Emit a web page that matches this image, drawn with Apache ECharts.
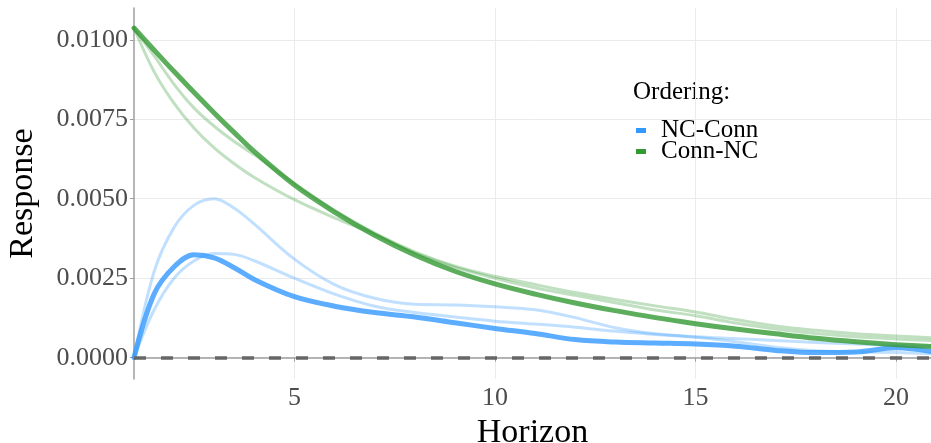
<!DOCTYPE html>
<html>
<head>
<meta charset="utf-8">
<script src="https://cdn.jsdelivr.net/npm/echarts@6/dist/echarts.min.js"></script>
<style>
  html, body { margin: 0; padding: 0; background: #fff; }
  #chart { width: 931px; height: 443px; }
</style>
</head>
<body>
<div id="chart"></div>
<script>
// horizons (shared by every series)
const horizon = [1, 1.5, 2, 2.5, 3, 3.5, 4, 5, 6, 7, 8, 9, 10, 11, 12, 13, 14, 15, 16, 17, 18, 19, 20, 21];

// NC-Conn ordering: main response and the two light companion lines
const ncConn   = [0, 0.0020, 0.00286, 0.00324, 0.00314, 0.00283, 0.00246, 0.00192, 0.00162, 0.00142, 0.00128, 0.00110, 0.00092, 0.00076, 0.00057, 0.00049, 0.00046, 0.00043, 0.00036, 0.00023, 0.00016, 0.00018, 0.00031, 0.00017];
const ncConnHi = [0, 0.0027, 0.0041, 0.0048, 0.0050, 0.0047, 0.0042, 0.0031, 0.0023, 0.00187, 0.00168, 0.00166, 0.00160, 0.00151, 0.00126, 0.00094, 0.00075, 0.00066, 0.00060, 0.00054, 0.00048, 0.00043, 0.00039, 0.00036];
const ncConnLo = [0, 0.0015, 0.0025, 0.00305, 0.00328, 0.00325, 0.00305, 0.0025, 0.0020, 0.00162, 0.00142, 0.00128, 0.00115, 0.00106, 0.00096, 0.00083, 0.00073, 0.00064, 0.00050, 0.00033, 0.00022, 0.00018, 0.00016, 0.00012];

// Conn-NC ordering
const connNC   = [0.01037, 0.00968, 0.00900, 0.00834, 0.00770, 0.00708, 0.00648, 0.00543, 0.00458, 0.00385, 0.00323, 0.00272, 0.00232, 0.00200, 0.00172, 0.00148, 0.00126, 0.00107, 0.00090, 0.00075, 0.00061, 0.00050, 0.00041, 0.00034];
const connNCHi = [0.01037, 0.00950, 0.00860, 0.00785, 0.00728, 0.00680, 0.00638, 0.00548, 0.00464, 0.00392, 0.00333, 0.00288, 0.00256, 0.00230, 0.00205, 0.00183, 0.00163, 0.00144, 0.00120, 0.00100, 0.00086, 0.00075, 0.00068, 0.00062];
const connNCLo = [0.01037, 0.00900, 0.00800, 0.00722, 0.00660, 0.00610, 0.00567, 0.00497, 0.00440, 0.00388, 0.00330, 0.00285, 0.00250, 0.00220, 0.00196, 0.00173, 0.00150, 0.00132, 0.00109, 0.00090, 0.00076, 0.00066, 0.00059, 0.00053];

// axis ticks
const xTicks = [5, 10, 15, 20];
const yTicks = [0, 0.0025, 0.005, 0.0075, 0.01];

const FONT = "'Liberation Serif', 'Times New Roman', serif";
const BLUE = '#3399ff';
const GREEN = '#339933';

function pairs(ys) {
  return horizon.map((h, i) => [h, ys[i]]);
}

function line(name, ys, color, width, z) {
  return {
    name: name,
    type: 'line',
    data: pairs(ys),
    smooth: 0.35,
    showSymbol: false,
    silent: true,
    z: z,
    itemStyle: { color: color },
    lineStyle: { color: color, width: width, cap: 'round', join: 'round' }
  };
}

const chart = echarts.init(document.getElementById('chart'), null, { renderer: 'canvas' });

const series = [
  line('NC-Conn hi', ncConnHi, 'rgba(51,153,255,0.3)', 3, 2),
  line('NC-Conn lo', ncConnLo, 'rgba(51,153,255,0.3)', 3, 2),
  line('Conn-NC hi', connNCHi, 'rgba(51,153,51,0.3)', 3, 2),
  line('Conn-NC lo', connNCLo, 'rgba(51,153,51,0.3)', 3, 2),
  line('NC-Conn', ncConn, 'rgba(51,153,255,0.8)', 5, 3),
  line('Conn-NC', connNC, 'rgba(51,153,51,0.8)', 5, 3)
];
// dashed zero line
series[4].markLine = {
  silent: true,
  symbol: 'none',
  label: { show: false },
  lineStyle: { color: '#666666', width: 3.5, type: [12, 15] },
  data: [{ yAxis: 0 }]
};

chart.setOption({
  animation: false,
  backgroundColor: '#ffffff',
  grid: { left: 134, right: 0, top: 8, bottom: 64, outerBoundsMode: 'none' },
  legend: {
    left: 631,
    top: 113,
    orient: 'vertical',
    icon: 'rect',
    itemWidth: 10,
    itemHeight: 5,
    itemGap: -4,
    selectedMode: false,
    textStyle: { fontFamily: FONT, fontSize: 25, color: '#000', padding: [0, 0, 0, 10] },
    data: [
      { name: 'NC-Conn', itemStyle: { color: BLUE } },
      { name: 'Conn-NC', itemStyle: { color: GREEN } }
    ]
  },
  graphic: [{
    type: 'text',
    left: 633,
    top: 80,
    style: { text: 'Ordering:', font: '25px ' + FONT, fill: '#000' }
  }],
  xAxis: {
    type: 'value',
    min: 1,
    max: 20.87,
    name: 'Horizon',
    nameLocation: 'middle',
    nameGap: 31,
    nameTextStyle: { fontFamily: FONT, fontSize: 34, color: '#000' },
    axisLine: { show: true, lineStyle: { color: '#9e9e9e', width: 1.5 } },
    axisTick: { show: true, length: 4, customValues: xTicks, lineStyle: { color: '#9e9e9e', width: 1 } },
    axisLabel: { customValues: xTicks, margin: 6, fontFamily: FONT, fontSize: 26, color: '#4d4d4d' },
    splitLine: { show: true, lineStyle: { color: '#ebebeb', width: 1 } }
  },
  yAxis: {
    type: 'value',
    min: -0.00067,
    max: 0.0110,
    name: 'Response',
    nameLocation: 'middle',
    nameRotate: 90,
    nameGap: 94,
    nameTextStyle: { fontFamily: FONT, fontSize: 34, color: '#000' },
    axisLine: { show: true, lineStyle: { color: '#9e9e9e', width: 1.5 } },
    axisTick: { show: true, length: 4, customValues: yTicks, lineStyle: { color: '#9e9e9e', width: 1 } },
    axisLabel: {
      customValues: yTicks,
      margin: 6,
      fontFamily: FONT,
      fontSize: 26,
      color: '#4d4d4d',
      formatter: v => v.toFixed(4)
    },
    splitLine: { show: true, lineStyle: { color: '#ebebeb', width: 1 } }
  },
  series: series
});
</script>
</body>
</html>
